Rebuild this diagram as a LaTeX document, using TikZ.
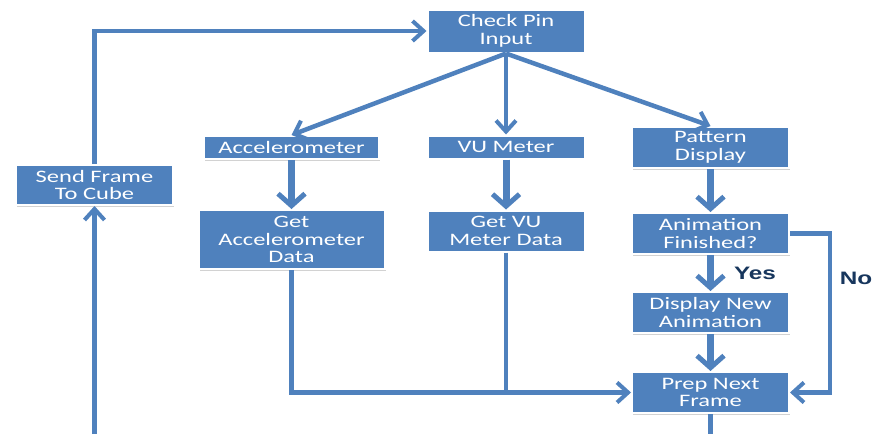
\documentclass[tikz,border=0pt]{standalone}
\usepackage{fontspec}
\setmainfont{Carlito}[FakeStretch=1.4]
\newfontfamily\tagfont{Liberation Sans}[FakeStretch=1.35]
\usetikzlibrary{arrows.meta,positioning,shadows}
\definecolor{boxblue}{RGB}{79,129,189}
\definecolor{tagnavy}{RGB}{23,54,93}

\begin{document}
\begin{tikzpicture}[
  x=1pt,y=-1pt,
  flowbox/.style={rectangle,fill=boxblue,draw=white,line width=2pt,
                  text=white,align=center,inner sep=0pt,
                  minimum width=157pt,minimum height=41pt,
                  font=\fontsize{17.5}{17.5}\selectfont,
                  drop shadow={shadow xshift=1pt,shadow yshift=-1.5pt,opacity=0.35}},
  arrow/.style={-{Straight Barb[length=11pt,width=20pt,line width=4pt]},
                line width=4.5pt,draw=boxblue},
  thickarrow/.style={-{Straight Barb[length=12pt,width=27pt,line width=5pt]},
                     line width=7pt,draw=boxblue},
  link/.style={line width=4.5pt,draw=boxblue},
  tag/.style={text=tagnavy,inner sep=0pt,font=\tagfont\bfseries\fontsize{18}{18}\selectfont}
]
\useasboundingbox (0,0) rectangle (873,434);
\fill[white] (0,0) rectangle (873,434);

\node[flowbox,minimum height=43pt] (cpi) at (506,31) {Check Pin\\Input};
\node[flowbox,minimum width=175pt,minimum height=23pt] (acc) at (291.5,147.5) {Accelerometer};
\node[flowbox,minimum height=23pt] (vu) at (506,147) {VU Meter};
\node[flowbox] (pd) at (710.5,147.5) {Pattern\\Display};
\node[flowbox,minimum height=40pt] (sfc) at (94.5,185) {Send Frame\\To Cube};
\node[flowbox,minimum width=186pt,minimum height=59pt,below=49pt of acc] (gad) {Get\\Accelerometer\\Data};
\node[flowbox,below=50pt of vu] (gvd) {Get VU\\Meter Data};
\node[flowbox,below=43pt of pd] (af) {Animation\\Finished?};
\node[flowbox,below=36pt of af] (dna) {Display New\\Animation};
\node[flowbox,below=37pt of dna] (pnf) {Prep Next\\Frame};
\node[tag] (no) at (856,278) {No};
\coordinate (loopout) at (710.5,434);
\coordinate (loopin) at (94.5,434);

\draw[arrow] (sfc.north) |- (cpi.west);
\draw[arrow] (cpi.south) -- (acc.north);
\draw[arrow] (cpi.south) -- (vu.north);
\draw[arrow] (cpi.south) -- (pd.north);
\draw[thickarrow] (acc) -- (gad);
\draw[thickarrow] (vu) -- (gvd);
\draw[thickarrow] (pd) -- (af);
\draw[thickarrow] (af) -- node[tag,right=20pt] (yes) {Yes} (dna);
\draw[thickarrow] (dna) -- (pnf);
\draw[arrow] (af.east) -- ++(40,0) |- (pnf.east);
\draw[arrow] (gad.south) |- (pnf.west);
\draw[link] (gvd.south) -- (gvd.south |- pnf.west);
\draw[link] (pnf.south) -- (loopout);
\draw[arrow] (loopin) -- (sfc.south);
\end{tikzpicture}
\end{document}
